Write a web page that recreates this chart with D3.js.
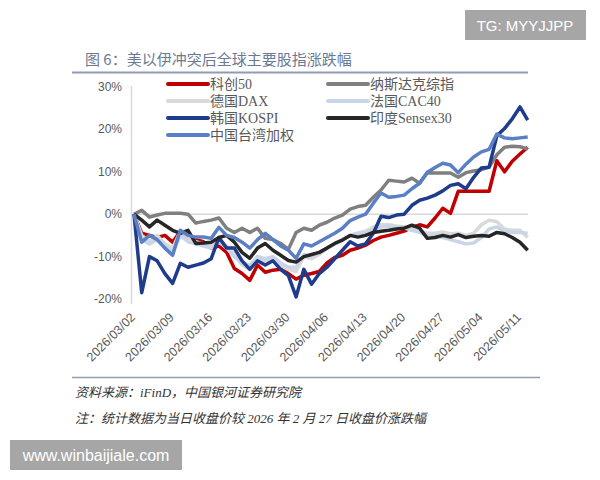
<!DOCTYPE html>
<html>
<head>
<meta charset="utf-8">
<script src="https://cdn.jsdelivr.net/npm/d3@7"></script>
<style>
  body { margin: 0; background: #fff; }
  svg { display: block; }
</style>
</head>
<body>
<svg id="chart" width="600" height="480"></svg>
<script>
// trading days, 2026/03/02 .. 2026/05/12
var dates = ["03/02","03/03","03/04","03/05","03/06","03/09","03/10","03/11","03/12","03/13",
  "03/16","03/17","03/18","03/19","03/20","03/23","03/24","03/25","03/26","03/27",
  "03/30","03/31","04/01","04/02","04/03","04/06","04/07","04/08","04/09","04/10",
  "04/13","04/14","04/15","04/16","04/17","04/20","04/21","04/22","04/23","04/24",
  "04/27","04/28","04/29","04/30","05/01","05/04","05/05","05/06","05/07","05/08",
  "05/11","05/12"].map(d => "2026/" + d)

var star50 = [0,-4.5,-5,-5.5,-5,-6.6,-4,-5.5,-6,-6.5,-8,-7.5,-9,-12.8,-14,-15.6,-12,-13.7,-13.2,-13,
  -14,-15.3,-14.4,-14,-13.5,-11.5,-10.2,-9.7,-8.5,-8,-7.3,-6.2,-5.4,-5,-4.5,-4,-3.1,-2.5,-3,-0.9,
  1.4,0.2,5.4,5.4,5.4,5.4,5.4,12.6,10,12.5,14.2,15.8]
var nasdaq = [0,0.9,-0.7,-0.2,0.2,0.2,0.2,0,-2.1,-1.7,-1.4,-0.9,-3.3,-4.3,-3.3,-4.3,-3.3,-5.7,-6,-6.9,
  -8.3,-4.3,-3.3,-3.8,-2.6,-1.9,-0.9,-0.2,1.2,1.8,2.1,4,5.7,8,7.8,7.6,8.5,7.3,9.8,9.7,
  9.7,9.7,8.7,9.8,10.2,10.5,11.1,14,15.8,16,15.9,15.4]
var dax = [0,-5,-6.5,-5,-7,-8,-4,-5.5,-6.5,-7,-7.5,-6,-7.5,-9.5,-12,-13,-10,-11,-10.5,-12,
  -13,-13.5,-10,-10.5,-9.5,-8,-7,-6,-5,-4.5,-4,-3,-2.5,-2.5,-2.8,-3,-3.5,-4,-4.5,-4.5,
  -4.2,-4.6,-4.5,-5,-4.5,-2.5,-1.4,-1.8,-3.5,-3.8,-3.8,-5.5]
var cac40 = [0,-6,-7,-6,-7.5,-9,-5,-6.5,-7,-7.5,-8,-6.5,-8,-10,-11.5,-12,-10,-10.5,-10,-11.5,
  -12.5,-12.5,-9.5,-10,-9,-8,-7,-6,-5,-4.5,-4.5,-3.5,-3,-2.8,-3,-3.2,-3.8,-4.3,-5,-5,
  -5.5,-6,-6.5,-7,-6.8,-5.5,-3.5,-3,-4,-4.3,-4.3,-4.5]
var kospi = [0,-18.5,-10,-11,-14,-16.3,-11.6,-12.5,-12,-11.5,-10.5,-5.5,-8,-8,-11,-13,-11,-12,-11,-13,
  -14.5,-19.5,-13,-16.5,-14,-12.5,-10.5,-8.5,-6.5,-7.5,-7,-4.5,-0.5,-0.8,-0.2,0,2.1,3.3,3.8,4.5,
  5.5,6.8,7.2,6,8.7,10.9,11.1,18.5,20.2,22.5,25.3,22.2]
var sensex = [0,-1.4,-3,-1.4,-2.6,-3.8,-4.5,-3.8,-6.9,-6.8,-6.6,-5.5,-5,-6.6,-9,-10.4,-8,-6.9,-8.5,-9.7,
  -10.9,-11.3,-10,-9.5,-9,-8,-6.9,-6.1,-5,-5.4,-5,-4.3,-4,-3.8,-3.5,-3.3,-2.6,-3.3,-5.7,-5.5,
  -5,-5.4,-4.8,-5.5,-5.2,-5,-5.2,-4.3,-4.6,-5.5,-6.6,-8.5]
var taiex = [0,-6.6,-5,-6,-8,-9.7,-3.8,-5,-5.4,-5.4,-5.7,-3.1,-5,-5.5,-6.6,-8,-6,-4.5,-6,-7.5,
  -8.5,-10.4,-7,-7.5,-6.5,-5.5,-4.5,-3.3,-1.5,-0.7,0,2.6,5,4,4.2,4.5,6,7.3,9.9,11,
  12,11.6,9.8,11.8,13.5,14.7,15.3,18.9,18,17.8,18,18.2]

var seriesNames = ["科创50","纳斯达克综指","德国DAX","法国CAC40","韩国KOSPI","印度Sensex30","中国台湾加权"]
var seriesValues = [star50, nasdaq, dax, cac40, kospi, sensex, taiex]
var colors = ["#c00000","#7f7f7f","#d9d9d9","#c8d5e8","#1f3b8c","#262626","#5b7fc4"]
var yTicks = [-20,-10,0,10,20,30]

var svg = d3.select("#chart")
var font = "'Liberation Serif','Noto Sans CJK SC',serif"

// watermarks
svg.append("rect").attr("x", 465).attr("y", 10).attr("width", 121).attr("height", 30).attr("fill", "#a6a6a6")
svg.append("text").attr("x", 525).attr("y", 31).attr("text-anchor", "middle")
  .attr("fill", "#fff").style("font", "15px 'Liberation Sans',sans-serif").text("TG: MYYJJPP")

// title
svg.append("text").attr("x", 85).attr("y", 65)
  .attr("fill", "#6b7a94").style("font-size", "15px").style("font-family", "'Noto Sans CJK SC',sans-serif")
  .text("图 6：美以伊冲突后全球主要股指涨跌幅")
svg.append("line").attr("x1", 72).attr("x2", 528).attr("y1", 72.5).attr("y2", 72.5)
  .attr("stroke", "#8f9cb3").attr("stroke-width", 2)

var x = d3.scalePoint().domain(dates).range([134, 527.7])
var y = d3.scaleLinear().domain([-20, 30]).range([299, 87])

// y axis
svg.append("line").attr("x1", 131.5).attr("x2", 131.5).attr("y1", 86).attr("y2", 304)
  .attr("stroke", "#d9d9d9").attr("stroke-width", 1.5)
svg.selectAll(".ytick").data(yTicks).enter().append("text")
  .attr("class", "ytick")
  .attr("x", 122).attr("y", d => y(d) + 4)
  .attr("text-anchor", "end").attr("fill", "#595959")
  .style("font", "12px 'Liberation Sans',sans-serif")
  .text(d => d + "%")

// zero line
svg.append("line").attr("x1", 131).attr("x2", 528).attr("y1", y(0)).attr("y2", y(0))
  .attr("stroke", "#d9d9d9").attr("stroke-width", 1.5)

// x labels every week
var xTicks = dates.filter((d, i) => i % 5 === 0)
svg.selectAll(".xtick").data(xTicks).enter().append("text")
  .attr("class", "xtick")
  .attr("transform", d => "translate(" + (x(d) + 2) + ",318) rotate(-45)")
  .attr("text-anchor", "end").attr("fill", "#595959")
  .style("font", "12.5px 'Liberation Sans',sans-serif")
  .text(d => d)

// lines
var line = d3.line().x((d, i) => x(dates[i])).y(d => y(d))
seriesValues.forEach(function (vals, k) {
  svg.append("path").datum(vals)
    .attr("d", line)
    .attr("fill", "none")
    .attr("stroke", colors[k])
    .attr("stroke-width", 3.5)
    .attr("stroke-linejoin", "round")
})

// legend
var legendPos = [[168, 84], [328, 84], [168, 101], [328, 101], [168, 118], [328, 118], [168, 135]]
seriesNames.forEach(function (name, k) {
  var p = legendPos[k]
  svg.append("line").attr("x1", p[0]).attr("x2", p[0] + 40).attr("y1", p[1]).attr("y2", p[1])
    .attr("stroke", colors[k]).attr("stroke-width", 4).attr("stroke-linecap", "round")
  svg.append("text").attr("x", p[0] + 42).attr("y", p[1] + 5)
    .attr("fill", "#595959").style("font-size", "14px").style("font-family", font)
    .text(name)
})

// bottom rule and notes
svg.append("line").attr("x1", 72).attr("x2", 540).attr("y1", 377.5).attr("y2", 377.5)
  .attr("stroke", "#8f9cb3").attr("stroke-width", 1.5)
svg.append("text").attr("x", 75).attr("y", 397)
  .attr("fill", "#333").style("font-size", "13px").style("font-style", "italic").style("font-family", font)
  .text("资料来源：iFinD，中国银河证券研究院")
svg.append("text").attr("x", 75).attr("y", 423)
  .attr("fill", "#333").style("font-size", "13px").style("font-style", "italic").style("font-family", font)
  .text("注：统计数据为当日收盘价较 2026 年 2 月 27 日收盘价涨跌幅")

svg.append("rect").attr("x", 10).attr("y", 440).attr("width", 172).attr("height", 30).attr("fill", "#a6a6a6")
svg.append("text").attr("x", 96).attr("y", 461).attr("text-anchor", "middle")
  .attr("fill", "#fff").style("font", "16px 'Liberation Sans',sans-serif").text("www.winbaijiale.com")
</script>
</body>
</html>
